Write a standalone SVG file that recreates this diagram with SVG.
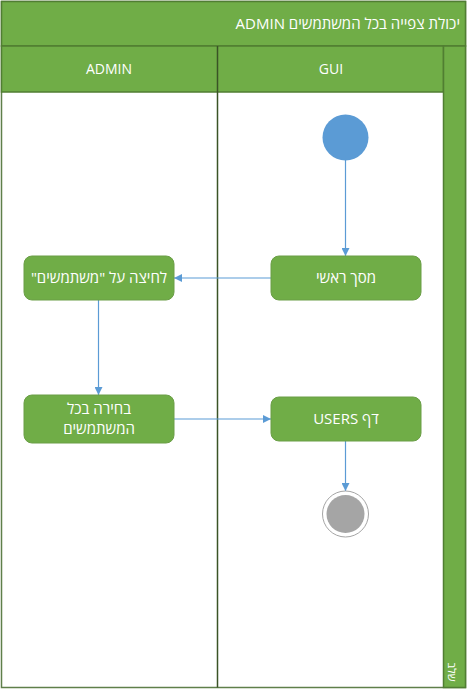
<svg xmlns="http://www.w3.org/2000/svg" width="470" height="694" viewBox="0 0 470 694">
<style>
.band{fill:#70AD47;stroke:#507E32;stroke-width:1.5}
.div{stroke:#3A5326;stroke-width:1.5;fill:none}
.node{fill:#70AD47;stroke:#6A9E46;stroke-width:1}
.t{font-family:"Open Sans","Liberation Sans","DejaVu Sans",sans-serif;fill:#FFFFFF}
.nt{font-size:15px}
.ht{font-size:14px}
.conn{stroke:#5B9BD5;stroke-width:1.2;fill:none}
</style>
<defs>
<marker id="arr" viewBox="0 0 10 10" refX="10" refY="5" markerWidth="8" markerHeight="8" markerUnits="userSpaceOnUse" orient="auto">
<path d="M0,0 L10,5 L0,10 z" fill="#5B9BD5"/>
</marker>
</defs>
<g id="pool">
<rect x="1.5" y="1.5" width="464" height="686" fill="#FFFFFF" stroke="#5F7F4A" stroke-width="1.5"/>
<rect class="band" x="1.5" y="1.5" width="464" height="44.5"/>
<text class="t" font-size="15" x="460" y="29" direction="rtl" text-anchor="start">יכולת צפייה בכל המשתמשים ADMIN</text>
<rect class="band" x="1.5" y="46" width="442" height="46"/>
<rect class="band" x="443.5" y="46" width="22" height="641.5"/>
<line class="div" x1="217.5" y1="46" x2="217.5" y2="687.5"/>
<text class="t ht" x="109" y="74" text-anchor="middle">ADMIN</text>
<text class="t ht" x="331" y="74" text-anchor="middle">GUI</text>
<text class="t" font-size="11" transform="translate(448,672) rotate(90)" direction="rtl" text-anchor="middle">שלב</text>
</g>
<g id="connectors">
<line class="conn" x1="345.5" y1="160" x2="345.5" y2="256" marker-end="url(#arr)"/>
<line class="conn" x1="271" y1="278" x2="174" y2="278" marker-end="url(#arr)"/>
<line class="conn" x1="98.5" y1="300" x2="98.5" y2="395" marker-end="url(#arr)"/>
<line class="conn" x1="174" y1="419" x2="271" y2="419" marker-end="url(#arr)"/>
<line class="conn" x1="345.5" y1="441" x2="345.5" y2="491" marker-end="url(#arr)"/>
</g>
<g id="start">
<circle cx="345.5" cy="137.5" r="23" fill="#5B9BD5"/>
</g>
<g id="main-screen">
<rect class="node" x="271" y="256" width="150" height="44" rx="8"/>
<text class="t nt" x="346" y="283" text-anchor="middle" direction="rtl">מסך ראשי</text>
</g>
<g id="click-users">
<rect class="node" x="24" y="256" width="150" height="44" rx="8"/>
<text class="t nt" x="99" y="283" text-anchor="middle" direction="rtl">לחיצה על "משתמשים"</text>
</g>
<g id="choose-all">
<rect class="node" x="24" y="395" width="150" height="48" rx="8"/>
<text class="t nt" x="99" y="414" text-anchor="middle" direction="rtl">בחירה בכל</text>
<text class="t nt" x="99" y="434" text-anchor="middle" direction="rtl">המשתמשים</text>
</g>
<g id="users-page">
<rect class="node" x="271" y="397" width="150" height="44" rx="8"/>
<text class="t nt" x="346" y="424" text-anchor="middle" direction="rtl">דף USERS</text>
</g>
<g id="end">
<circle cx="345.5" cy="514" r="23" fill="#FFFFFF" stroke="#A5A5A5" stroke-width="1"/>
<circle cx="345.5" cy="514" r="19" fill="#A5A5A5"/>
</g>
</svg>
